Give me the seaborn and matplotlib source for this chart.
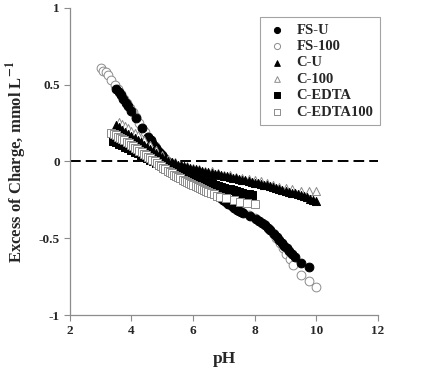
import pandas as pd
import seaborn as sns
import matplotlib
matplotlib.use('Agg')
import matplotlib.pyplot as plt

# --- Data (pH vs excess of charge, mmol/L) ---
fs_u_ph = [3.50, 3.58, 3.66, 3.74, 3.82, 3.90, 4.00, 4.15, 4.35, 4.55,
           4.62, 4.68, 4.74, 4.80, 4.86, 4.92, 4.98, 5.04, 5.10, 5.16,
           5.22, 5.28, 5.34, 5.40, 5.46, 5.52, 5.58, 5.64, 5.70, 5.76,
           5.82, 5.88, 5.94, 6.00, 6.06, 6.12, 6.18, 6.24, 6.30, 6.36,
           6.42, 6.48, 6.54, 6.60, 6.66, 6.72, 6.78, 6.84, 6.90, 6.96,
           7.02, 7.08, 7.14, 7.20, 7.26, 7.32, 7.38, 7.44, 7.50, 7.56,
           7.62, 7.85, 8.05, 8.15, 8.25, 8.33, 8.42, 8.50, 8.62, 8.72,
           8.80, 8.88, 8.96, 9.04, 9.12, 9.20, 9.30, 9.50, 9.75]
fs_u_val = [0.47, 0.45, 0.43, 0.41, 0.38, 0.36, 0.33, 0.28, 0.22, 0.16,
            0.14, 0.12, 0.10, 0.085, 0.07, 0.055, 0.04, 0.025, 0.01, 0.0,
            -0.01, -0.02, -0.03, -0.04, -0.05, -0.06, -0.07, -0.075, -0.085, -0.09,
            -0.10, -0.105, -0.115, -0.12, -0.13, -0.135, -0.14, -0.15, -0.155, -0.165,
            -0.17, -0.18, -0.19, -0.195, -0.205, -0.21, -0.22, -0.23, -0.24, -0.25,
            -0.26, -0.265, -0.275, -0.28, -0.29, -0.30, -0.305, -0.315, -0.32, -0.33,
            -0.335, -0.355, -0.375, -0.39, -0.40, -0.415, -0.43, -0.445, -0.47, -0.49,
            -0.51, -0.53, -0.55, -0.565, -0.58, -0.60, -0.62, -0.66, -0.69]

fs_100_ph = [3.00, 3.08, 3.16, 3.25, 3.35, 3.45, 3.55, 3.65, 3.75, 3.85,
             3.95, 4.05, 4.15, 4.25, 4.35, 4.45, 4.55, 4.65, 4.75, 4.90,
             5.05, 5.20, 5.35, 5.50, 5.65, 5.80, 5.95, 6.10, 6.25, 6.40,
             6.55, 6.70, 6.85, 7.00, 7.15, 7.30, 7.45, 7.60, 7.80, 8.00,
             8.15, 8.30, 8.45, 8.59, 8.70, 8.81, 8.92, 9.03, 9.13, 9.24,
             9.51, 9.75, 9.98]
fs_100_val = [0.61, 0.59, 0.58, 0.56, 0.53, 0.50, 0.47, 0.44, 0.41, 0.38,
              0.35, 0.32, 0.29, 0.25, 0.22, 0.19, 0.16, 0.13, 0.10, 0.06,
              0.025, -0.005, -0.035, -0.06, -0.08, -0.10, -0.12, -0.14, -0.155, -0.175,
              -0.19, -0.21, -0.23, -0.25, -0.27, -0.29, -0.31, -0.33, -0.35, -0.37,
              -0.39, -0.41, -0.44, -0.467, -0.50, -0.53, -0.565, -0.60, -0.635, -0.674,
              -0.74, -0.78, -0.82]

c_u_ph = [3.5, 3.6, 3.7, 3.8, 3.9, 4.0, 4.1, 4.2, 4.3, 4.4,
          4.5, 4.6, 4.7, 4.8, 4.9, 5.0, 5.1, 5.2, 5.3, 5.4,
          5.5, 5.6, 5.7, 5.8, 5.9, 6.0, 6.1, 6.2, 6.3, 6.4,
          6.5, 6.6, 6.7, 6.8, 6.9, 7.0, 7.1, 7.2, 7.3, 7.4,
          7.5, 7.6, 7.7, 7.8, 7.9, 8.0, 8.1, 8.2, 8.3, 8.4,
          8.5, 8.6, 8.7, 8.8, 8.9, 9.0, 9.1, 9.2, 9.3, 9.4,
          9.5, 9.6, 9.7, 9.8, 9.9, 10.0]
c_u_val = [0.235, 0.222, 0.208, 0.194, 0.180, 0.166, 0.152, 0.138, 0.124, 0.110,
           0.096, 0.082, 0.068, 0.054, 0.041, 0.028, 0.016, 0.005, -0.005, -0.013,
           -0.020, -0.026, -0.032, -0.037, -0.042, -0.047, -0.052, -0.057, -0.061, -0.066,
           -0.070, -0.074, -0.079, -0.083, -0.088, -0.092, -0.096, -0.101, -0.105, -0.110,
           -0.114, -0.119, -0.123, -0.128, -0.132, -0.137, -0.141, -0.146, -0.151, -0.156,
           -0.161, -0.166, -0.172, -0.178, -0.184, -0.190, -0.196, -0.202, -0.208, -0.214,
           -0.220, -0.227, -0.234, -0.241, -0.248, -0.255]

c_100_ph = [3.6, 3.7, 3.8, 3.9, 4.0, 4.1, 4.2, 4.4, 4.6, 4.8,
            5.0, 5.2, 5.4, 5.6, 5.8, 6.0, 6.2, 6.4, 6.6, 6.8,
            7.0, 7.2, 7.4, 7.6, 7.8, 8.0, 8.2, 8.4, 8.6, 8.8,
            9.0, 9.2, 9.5, 9.75, 10.0]
c_100_val = [0.26, 0.245, 0.23, 0.215, 0.20, 0.185, 0.17, 0.14, 0.11, 0.075,
             0.045, 0.015, -0.005, -0.02, -0.03, -0.04, -0.05, -0.06, -0.065, -0.075,
             -0.085, -0.09, -0.10, -0.105, -0.115, -0.12, -0.13, -0.14, -0.15, -0.165,
             -0.175, -0.18, -0.19, -0.195, -0.195]

c_edta_ph = [3.4, 3.5, 3.6, 3.7, 3.8, 3.9, 4.0, 4.1, 4.2, 4.3,
             4.4, 4.5, 4.6, 4.7, 4.8, 4.9, 5.0, 5.1, 5.2, 5.3,
             5.4, 5.5, 5.6, 5.7, 5.8, 5.9, 6.0, 6.1, 6.2, 6.3,
             6.4, 6.5, 6.6, 6.7, 6.8, 6.9, 7.0, 7.1, 7.2, 7.3,
             7.4, 7.5, 7.6, 7.7, 7.8, 7.9]
c_edta_val = [0.135, 0.125, 0.115, 0.105, 0.095, 0.085, 0.075, 0.065, 0.055, 0.045,
              0.035, 0.02, 0.01, 0.0, -0.01, -0.02, -0.03, -0.035, -0.045, -0.05,
              -0.055, -0.062, -0.068, -0.075, -0.082, -0.09, -0.097, -0.105, -0.112, -0.12,
              -0.128, -0.135, -0.142, -0.15, -0.157, -0.163, -0.17, -0.176, -0.182, -0.188,
              -0.194, -0.199, -0.204, -0.209, -0.214, -0.218]

c_edta100_ph = [3.35, 3.42, 3.49, 3.56, 3.63, 3.70, 3.77, 3.84, 3.91, 3.98,
                4.05, 4.12, 4.19, 4.26, 4.33, 4.40, 4.47, 4.54, 4.61, 4.68,
                4.75, 4.82, 4.89, 4.96, 5.03, 5.10, 5.17, 5.24, 5.31, 5.38,
                5.45, 5.52, 5.59, 5.66, 5.73, 5.80, 5.87, 5.94, 6.01, 6.08,
                6.15, 6.22, 6.29, 6.36, 6.43, 6.50, 6.58, 6.67, 6.76, 6.87,
                7.06, 7.32, 7.51, 7.74, 8.00]
c_edta100_val = [0.185, 0.178, 0.17, 0.162, 0.154, 0.146, 0.137, 0.128, 0.119, 0.11,
                 0.10, 0.09, 0.08, 0.07, 0.06, 0.05, 0.04, 0.03, 0.02, 0.01,
                 0.0, -0.01, -0.02, -0.03, -0.04, -0.05, -0.06, -0.07, -0.078, -0.086,
                 -0.094, -0.102, -0.11, -0.118, -0.126, -0.133, -0.14, -0.147, -0.154, -0.16,
                 -0.166, -0.172, -0.178, -0.184, -0.19, -0.196, -0.205, -0.214, -0.222, -0.23,
                 -0.239, -0.25, -0.261, -0.272, -0.278]

x_ticks = [2, 4, 6, 8, 10, 12]
y_ticks = [-1, -0.5, 0, 0.5, 1]
y_tick_labels = ['-1', '-0.5', '0', '0.5', '1']

# --- Style ---
sns.set_style('ticks')
plt.rcParams['font.family'] = ['Liberation Serif', 'DejaVu Serif']
plt.rcParams['font.weight'] = 'bold'
plt.rcParams['mathtext.fontset'] = 'stix'

fig = plt.figure(figsize=(4.31, 3.76), dpi=100)
ax = fig.add_axes([0.162, 0.162, 0.715, 0.817])

grey = '0.55'
# (name, x, y, marker, size, facecolor, edgecolor)
series = [
    ('FS-100', fs_100_ph, fs_100_val, 'o', 40, 'white', grey),
    ('FS-U', fs_u_ph, fs_u_val, 'o', 40, 'black', 'black'),
    ('C-100', c_100_ph, c_100_val, '^', 34, 'white', grey),
    ('C-U', c_u_ph, c_u_val, '^', 34, 'black', 'black'),
    ('C-EDTA', c_edta_ph, c_edta_val, 's', 32, 'black', 'black'),
    ('C-EDTA100', c_edta100_ph, c_edta100_val, 's', 32, 'white', grey),
]

for name, xs, ys, mk, sz, fc, ec in series:
    df = pd.DataFrame({'pH': xs, 'charge': ys})
    sns.scatterplot(data=df, x='pH', y='charge', ax=ax, marker=mk, s=sz,
                    color=fc, edgecolor=ec, linewidth=0.7, label=name, zorder=3)

ax.axhline(0, color='black', lw=1.4, linestyle=(0, (5.5, 2.6)), zorder=2)

ax.set_xlim(2, 12)
ax.set_ylim(-1, 1)
ax.set_xticks(x_ticks)
ax.set_xticklabels([str(t) for t in x_ticks])
ax.set_yticks(y_ticks)
ax.set_yticklabels(y_tick_labels)
ax.tick_params(labelsize=9.5, length=4, width=0.8, color=grey, pad=3)
for lab in ax.get_xticklabels() + ax.get_yticklabels():
    lab.set_fontweight('bold')

sns.despine(ax=ax)
for side in ['left', 'bottom']:
    ax.spines[side].set_color(grey)
    ax.spines[side].set_linewidth(0.9)

ax.set_xlabel('pH', fontsize=12.5, fontweight='bold', labelpad=10)
ax.set_ylabel(r'Excess of Charge, mmol L$^{\mathbf{-1}}$', fontsize=12,
              fontweight='bold', labelpad=7)

handles, labels = ax.get_legend_handles_labels()
order = ['FS-U', 'FS-100', 'C-U', 'C-100', 'C-EDTA', 'C-EDTA100']
hmap = dict(zip(labels, handles))
leg = ax.legend([hmap[k] for k in order], order, loc='upper right',
                bbox_to_anchor=(1.006, 0.971), borderaxespad=0, frameon=True,
                fancybox=False, edgecolor=grey, fontsize=10.5, labelspacing=0.22,
                handletextpad=0.55, borderpad=0.45, handlelength=1.5,
                markerscale=0.7)
leg.get_frame().set_linewidth(0.8)
for t in leg.get_texts():
    t.set_fontweight('bold')

fig.savefig('out.png', dpi=100)
